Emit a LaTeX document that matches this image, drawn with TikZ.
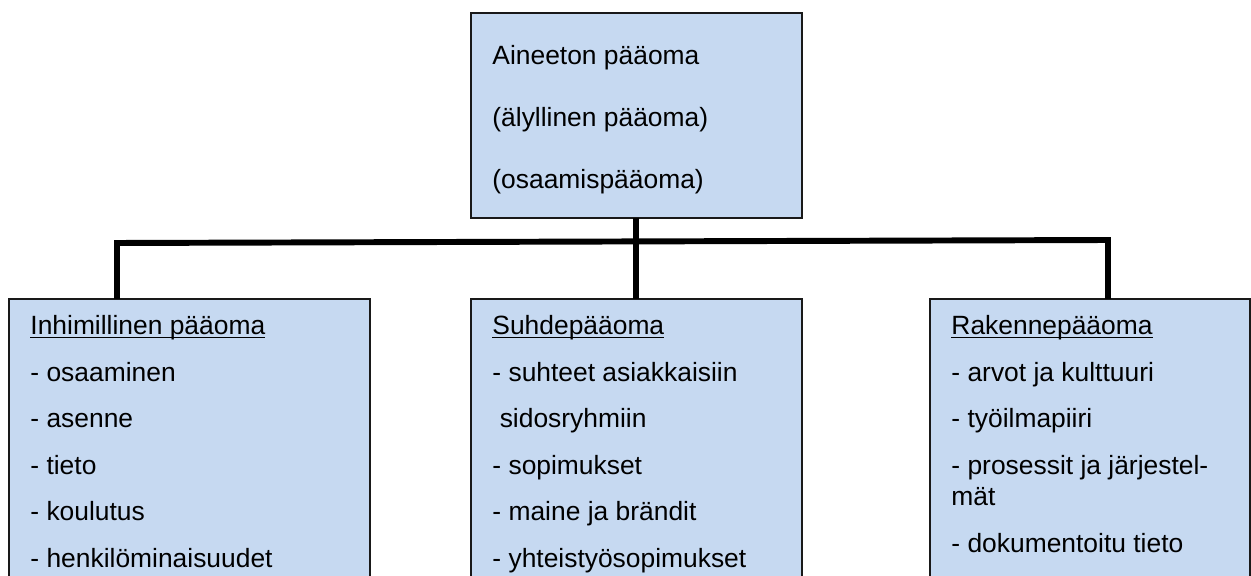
\documentclass[tikz,border=0pt]{standalone}
\usepackage{fontspec}
\setmainfont{Liberation Sans}
\usetikzlibrary{positioning}
\definecolor{capBlue}{RGB}{198,217,241}
\definecolor{capBorder}{RGB}{25,25,25}
\newcommand{\headul}[1]{\setbox0\hbox{#1}\rlap{\rule[-1.4pt]{\wd0}{0.65pt}}\box0}
\tikzset{
  capbox/.style={draw=capBorder, fill=capBlue, line width=0.7pt,
    anchor=north west, inner sep=0pt, outer sep=0pt},
  itemtxt/.style={anchor=base west, inner sep=0pt, font=\fontsize{12}{14}\selectfont},
  conn/.style={line width=2.7pt, color=black, line join=miter},
}

\begin{document}
\begin{tikzpicture}[x=0.4545pt, y=-0.4545pt]
\useasboundingbox (0,0) rectangle (1251,576);

%% TOP - AINEETON PAAOMA
\node[capbox, minimum width=150.4pt, minimum height=93.2pt] (top) at (471,13) {};
\foreach \t [count=\i] in {Aineeton pääoma, (älyllinen pääoma), (osaamispääoma)}
  \node[itemtxt] (tt\i) at (492, {65+62*(\i-1)}) {\t};

%% LEFT - INHIMILLINEN
\node[capbox, minimum width=164.1pt, minimum height=150pt] (human) at (9,299) {};
\foreach \t [count=\i] in {\headul{Inhimillinen pääoma}, - osaaminen, - asenne,
    - tieto, - koulutus, - henkilöminaisuudet}
  \node[itemtxt] (ht\i) at (30, {335+46.4*(\i-1)}) {\t};

%% MIDDLE - SUHDE
\node[capbox, minimum width=150.4pt, minimum height=150pt] (rel) at (471,299) {};
\foreach \t [count=\i] in {\headul{Suhdepääoma}, - suhteet asiakkaisiin,
    \ sidosryhmiin, - sopimukset, - maine ja brändit, - yhteistyösopimukset}
  \node[itemtxt] (rt\i) at (492, {335+46.4*(\i-1)}) {\t};

%% RIGHT - RAKENNE
\node[capbox, minimum width=145.4pt, minimum height=150pt] (struct) at (930,299) {};
\foreach \y/\t [count=\i] in {335/\headul{Rakennepääoma}, 381/- arvot ja kulttuuri,
    427/- työilmapiiri, 474/- prosessit ja järjestel-, 505/mät,
    552/- dokumentoitu tieto}
  \node[itemtxt] (st\i) at (951, \y) {\t};

%% CONNECTORS
\coordinate (jL) at (117,243);
\coordinate (jR) at (1108,240);
\draw[conn] (top.south) -- (rel.north);
\draw[conn] (human.north -| jL) -- (jL) -- (jR) -- (struct.north -| jR);

\end{tikzpicture}
\end{document}
